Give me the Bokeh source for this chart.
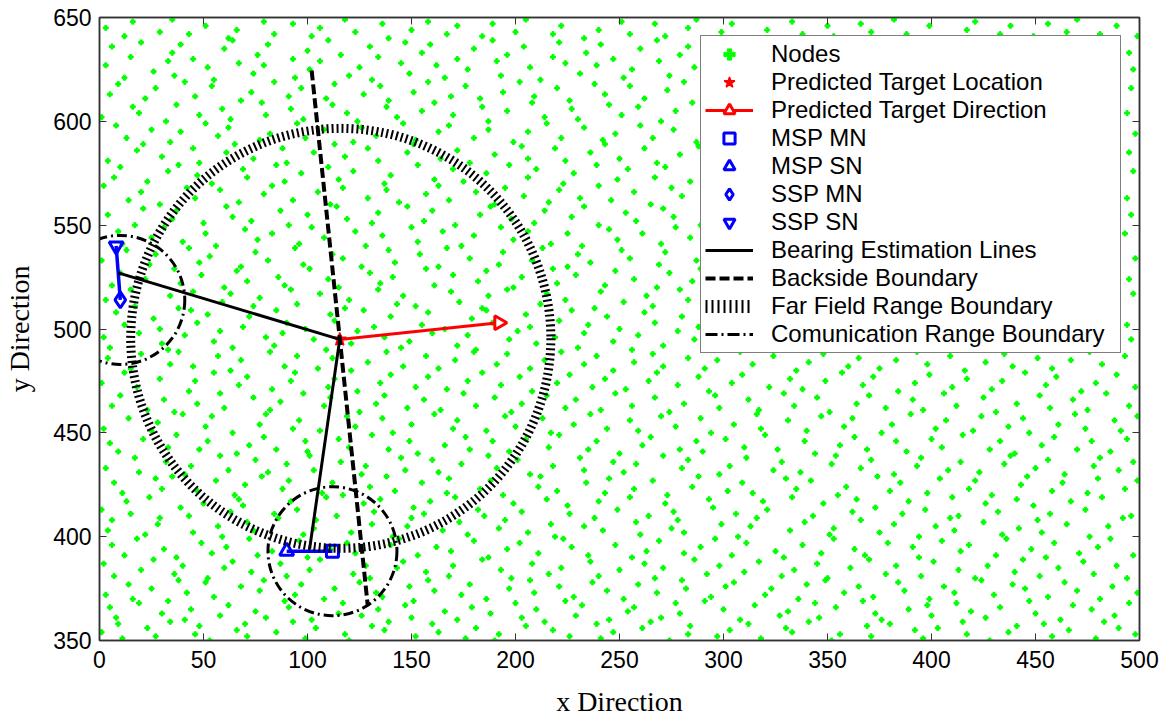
import math
from bokeh.plotting import figure
from bokeh.models import Range1d, LinearAxis, Legend, LegendItem, FixedTicker
from bokeh.embed import file_html
from bokeh.resources import INLINE

# ---------------- data ----------------
x_ticks = [0, 50, 100, 150, 200, 250, 300, 350, 400, 450, 500]
y_ticks = [350, 400, 450, 500, 550, 600, 650]

# sensor nodes (estimated positions, band by band)
nodes = [
(1,354),(9,358),(11,351),(23,356),(27,352),(34,359),(46,353),(48,357),(53,350),(66,355),(70,358),(71,352),(85,354),(93,359),(99,351),(104,356),(118,353),(120,350),(131,357),(137,355),(139,359),(152,352),(160,358),(163,354),(176,351),(181,356),(190,350),(192,353),(205,357),(214,359),(218,355),(226,352),(239,358),(241,351),(247,354),(261,356),(265,359),(274,350),(283,353),(284,357),(297,352),(303,355),(312,358),(318,351),(330,356),(333,354),(341,359),(352,350),(356,353),(369,357),(371,352),(380,358),(392,355),(396,351),(403,356),(415,359),(417,353),(428,350),(437,354),(441,357),(454,358),(458,352),(466,355),(479,351),(483,359),(490,356),(498,353),
(5,366),(8,361),(19,368),(30,363),(33,369),(41,360),(44,365),(58,362),(62,367),(75,364),(80,361),(89,369),(91,366),(102,360),(115,363),(117,368),(126,362),(134,365),(147,367),(150,361),(151,369),(166,364),(172,360),(179,366),(188,363),(200,368),(203,361),(210,365),(224,369),(229,362),(232,367),(245,360),(254,364),(257,366),(270,361),(277,368),(279,363),(291,369),(300,365),(308,360),(315,367),(327,362),(331,364),(344,368),(346,361),(354,366),(367,369),(373,363),(376,360),(389,365),(398,367),(400,362),(412,368),(419,364),(426,361),(433,366),(447,369),(450,363),(462,360),(468,367),(477,365),(488,362),(495,368),
(3,372),(14,377),(16,370),(25,375),(38,379),(42,373),(51,378),(55,371),(68,376),(77,374),(79,379),(94,372),(97,377),(108,370),(113,375),(125,378),(133,373),(136,371),(149,376),(158,379),(161,374),(174,372),(178,377),(186,370),(197,375),(207,379),(209,373),(221,376),(228,371),(237,378),(244,374),(252,370),(259,377),(268,373),(280,379),(282,375),(294,371),(301,376),(305,378),(320,372),(323,375),(336,370),(340,377),(349,379),(358,373),(365,376),(372,371),(384,378),(387,374),(399,370),(406,376),(411,373),(424,379),(430,372),(439,377),(445,375),(456,371),(464,378),(470,374),(481,370),(487,376),(499,373),
(2,387),(7,381),(20,384),(26,389),(36,382),(40,386),(52,380),(60,385),(64,388),(73,383),(87,387),(90,381),(101,384),(106,389),(122,382),(128,386),(130,380),(143,385),(146,388),(157,383),(168,381),(170,386),(184,389),(193,384),(198,380),(208,387),(216,382),(222,385),(236,388),(240,381),(250,384),(262,387),(267,380),(271,385),(286,389),(292,382),(298,386),(310,383),(317,388),(328,381),(334,384),(345,387),(350,380),(361,385),(370,389),(378,382),(383,386),(395,381),(401,388),(413,384),(421,380),(427,386),(440,383),(444,389),(452,381),(461,385),(473,388),(478,382),(489,386),(494,380),
(6,396),(12,391),(18,399),(31,394),(37,390),(49,397),(54,392),(61,395),(72,399),(76,391),(83,393),(96,398),(100,390),(111,394),(119,397),(123,392),(140,396),(144,399),(153,391),(162,395),(169,393),(180,398),(187,390),(196,394),(202,397),(211,392),(223,399),(227,395),(235,391),(248,396),(256,390),(263,393),(269,398),(281,392),(289,395),(296,399),(304,391),(311,397),(325,393),(329,390),(338,396),(347,392),(353,399),(363,394),(368,391),(379,397),(391,395),(394,390),(405,398),(414,393),(418,396),(431,391),(436,399),(448,394),(455,390),(459,397),(471,392),(480,395),(486,399),(497,391),
(4,403),(6,408),(22,401),(28,406),(29,409),(45,402),(57,405),(59,400),(71,407),(74,403),(86,409),(98,401),(103,404),(104,408),(121,402),(131,406),(141,400),(148,405),(150,409),(165,403),(173,407),(177,401),(192,404),(195,408),(206,402),(217,406),(219,400),(233,405),(238,409),(242,403),(258,407),(260,401),(275,404),(278,408),(281,402),(299,406),(307,400),(313,405),(316,409),(332,403),(339,407),(351,401),(353,404),(366,408),(375,402),(382,406),(394,400),(402,405),(409,409),(411,403),(425,407),(434,401),(442,404),(451,408),(453,402),(465,406),(476,400),(485,405),(492,409),
(1,413),(13,417),(15,411),(24,419),(39,414),(43,410),(50,416),(63,412),(67,418),(69,415),(84,411),(92,417),(95,413),(109,419),(114,410),(127,416),(132,412),(135,418),(151,414),(156,411),(159,417),(171,419),(182,413),(185,410),(199,416),(203,412),(215,418),(225,415),(226,411),(240,417),(249,413),(255,419),(264,410),(272,416),(276,412),(293,418),(295,414),(306,411),(319,417),(321,413),(333,419),(343,410),(348,416),(362,412),(364,418),(373,414),(386,411),(389,417),(397,413),(410,419),(413,410),(426,416),(432,412),(441,418),(449,415),(457,411),(467,417),(474,413),(482,419),(496,410),
(7,426),(11,421),(27,428),(30,423),(35,429),(47,422),(56,427),(65,420),(70,425),(78,429),(88,423),(91,427),(107,421),(112,426),(117,420),(130,424),(138,429),(142,422),(155,426),(167,421),(168,428),(183,423),(188,427),(194,420),(211,424),(212,429),(220,422),(234,426),(243,421),(245,428),(257,423),(266,427),(273,420),(285,424),(288,429),(302,422),(309,426),(314,421),(330,428),(335,423),(342,427),(355,420),(359,424),(374,429),(380,422),(385,426),(398,421),(404,428),(418,423),(421,427),(429,420),(443,425),(446,429),(458,422),(463,426),(475,421),(480,428),(493,423),(499,427),
(3,433),(17,438),(19,431),(32,436),(41,430),(44,434),(58,439),(62,432),(75,437),(81,431),(90,435),(101,439),(103,432),(116,436),(126,430),(128,434),(145,438),(147,432),(160,437),(163,431),(174,435),(187,439),(191,433),(201,437),(207,430),(218,434),(231,438),(233,432),(247,436),(252,431),(258,435),(271,439),(280,433),(283,437),(298,430),(303,434),(311,438),(324,432),(328,436),(337,431),(352,435),(354,439),(366,433),(371,437),(382,430),(393,434),(395,438),(408,432),(414,436),(423,431),(435,435),(438,439),(450,433),(456,437),(464,430),(478,434),(481,438),(490,432),(497,436),
(5,445),(9,441),(21,447),(33,443),(37,449),(48,442),(52,446),(66,440),(72,444),(79,448),(85,442),(99,446),(100,441),(115,447),(120,443),(131,449),(139,442),(149,446),(153,440),(166,444),(176,448),(178,442),(189,446),(197,441),(205,447),(216,443),(221,449),(235,442),(239,446),(250,440),(261,444),(265,448),(279,442),(287,446),(290,441),(301,447),(310,443),(320,449),(326,442),(339,446),(344,440),(356,444),(363,448),(369,442),(383,446),(388,441),(400,447),(405,443),(415,449),(428,442),(433,446),(440,440),(453,444),(459,448),(470,442),(477,446),(486,441),(494,447),
(2,452),(14,457),(25,451),(28,455),(40,459),(51,453),(54,458),(64,450),(77,454),(80,459),(93,452),(96,456),(106,451),(119,458),(123,453),(136,457),(141,450),(150,454),(161,459),(170,452),(172,456),(186,451),(195,458),(200,453),(213,457),(217,450),(228,454),(236,459),(244,452),(255,456),(259,451),(270,458),(277,453),(289,457),(294,450),(305,454),(316,459),(318,452),(331,456),(340,451),(347,458),(358,453),(362,457),(376,450),(381,454),(390,459),(402,452),(407,456),(420,451),(424,458),(437,453),(444,457),(447,450),(461,454),(469,459),(474,452),(488,456),(491,451),(499,458),
(6,463),(10,468),(23,461),(31,466),(36,460),(47,464),(58,469),(60,462),(74,467),(82,461),(87,465),(98,469),(108,463),(111,467),(125,460),(133,464),(137,468),(148,462),(156,466),(164,461),(175,469),(181,463),(190,467),(198,460),(203,464),(215,468),(224,462),(229,466),(241,461),(248,469),(256,463),(267,467),(274,460),(281,464),(296,468),(298,462),(312,466),(317,461),(329,469),(334,463),(345,467),(351,460),(364,464),(370,468),(378,462),(391,466),(396,461),(406,469),(412,463),(425,467),(431,460),(441,464),(452,468),(457,462),(468,466),(475,461),(484,469),(495,463),
(1,474),(12,479),(18,472),(29,476),(43,470),(46,475),(55,479),(67,473),(71,477),(83,471),(92,475),(94,479),(110,472),(113,476),(124,470),(135,474),(140,478),(152,472),(158,477),(167,471),(177,475),(184,479),(193,473),(202,477),(208,470),(220,474),(226,478),(237,472),(243,476),(253,471),(264,475),(268,479),(278,473),(288,477),(293,470),(304,474),(309,478),(322,472),(332,476),(338,471),(349,475),(357,479),(367,473),(372,477),(384,470),(392,474),(399,478),(410,472),(417,476),(429,471),(434,475),(445,479),(455,473),(460,477),(472,470),(479,474),(489,478),(498,472),
(4,486),(15,481),(20,488),(34,483),(38,489),(45,482),(57,487),(63,480),(68,485),(82,489),(89,482),(95,487),(105,481),(112,486),(121,480),(129,484),(138,489),(146,482),(157,487),(163,481),(171,485),(180,489),(191,483),(196,488),(207,481),(214,485),(222,489),(233,483),(239,487),(247,480),(257,484),(266,488),(271,482),(283,486),(291,481),(297,485),(308,489),(314,483),(324,487),(335,480),(341,484),(348,488),(360,482),(365,486),(375,481),(383,485),(393,489),(398,483),(409,487),(416,480),(426,484),(435,488),(439,482),(451,486),(458,481),(467,485),(476,489),(482,483),(493,487),
(2,496),(5,491),(19,498),(30,493),(33,490),(41,497),(55,494),(58,499),(64,491),(80,496),(84,492),(88,498),(103,495),(109,490),(121,493),(124,499),(137,496),(145,491),(149,494),(160,498),(172,492),(177,497),(181,490),(197,495),(201,499),(210,493),(219,496),(230,491),(233,498),(247,494),(256,490),(259,497),(271,492),(278,499),(286,495),(496,495),
(8,508),(12,502),(26,505),(29,500),(44,509),(47,503),(52,507),(69,501),(72,506),(85,509),(90,503),(99,500),(111,507),(113,504),(127,509),(132,501),(140,506),(155,502),(158,508),(166,500),(179,505),(186,509),(189,503),(205,507),(207,501),(221,504),(227,509),(235,502),(244,506),(250,500),(262,508),(267,503),(280,506),(288,501),(494,502),
(3,514),(15,519),(17,511),(34,516),(38,510),(45,518),(59,513),(63,517),(74,511),(77,515),(92,519),(95,512),(106,517),(118,510),(120,514),(134,519),(143,512),(146,516),(152,511),(169,518),(173,513),(184,510),(187,516),(196,519),(212,512),(215,517),(224,514),(238,510),(241,518),(252,513),(263,516),(266,511),(279,519),(283,514),(497,517),
(6,521),(10,527),(22,524),(36,529),(39,522),(49,526),(60,520),(66,528),(71,523),(86,525),(89,521),(101,529),(110,524),(115,520),(130,527),(135,522),(141,525),(157,529),(161,521),(170,526),(182,523),(186,528),(199,520),(203,525),(218,529),(220,522),(229,526),(243,521),(248,528),(257,524),(268,520),(274,527),(285,523),(289,529),(495,524),
(1,533),(13,538),(24,531),(27,536),(43,539),(48,532),(53,535),(68,530),(75,537),(81,533),(94,539),(98,531),(112,536),(117,534),(126,530),(139,538),(142,532),(154,536),(163,530),(167,539),(178,534),(192,531),(194,537),(208,533),(213,539),(225,530),(230,536),(236,532),(251,538),(255,534),(269,531),(272,537),(287,533),(498,534),
(9,547),(11,541),(25,544),(31,549),(40,542),(51,546),(56,540),(70,548),(76,543),(83,546),(96,541),(102,549),(108,544),(123,547),(128,540),(136,545),(150,549),(153,542),(165,547),(174,540),(180,545),(193,549),(199,543),(206,547),(217,541),(225,546),(232,540),(245,548),(249,543),(261,546),(270,541),(277,549),(284,544),(493,546),
(4,555),(17,550),(21,558),(35,553),(37,557),(50,551),(61,559),(64,554),(73,552),(87,557),(91,550),(100,555),(114,559),(119,553),(131,551),(134,556),(148,559),(156,552),(160,557),(171,550),(183,555),(188,559),(198,553),(209,551),(214,557),(227,554),(233,559),(240,550),(253,556),(258,552),(271,558),(276,554),(289,550),(496,555),
(2,569),(14,562),(20,566),(29,560),(42,568),(46,563),(58,567),(67,561),(79,565),(83,569),(93,562),(105,566),(111,560),(117,568),(129,563),(138,567),(144,561),(157,565),(163,569),(168,562),(181,566),(190,560),(195,568),(204,564),(216,561),(221,567),(231,563),(240,569),(246,562),(257,566),(265,560),(275,568),(280,564),(494,563),
(7,573),(10,578),(23,571),(33,576),(38,579),(47,574),(54,570),(69,577),(71,573),(85,579),(89,571),(97,575),(110,578),(115,572),(122,576),(137,570),(140,574),(153,579),(161,572),(170,577),(175,571),(186,575),(197,579),(206,573),(210,577),(223,570),(228,575),(239,579),(249,572),(254,577),(267,573),(272,578),(284,571),(497,576),
(4,581),(18,586),(21,589),(30,583),(45,587),(48,580),(61,585),(65,589),(74,582),(88,587),(90,580),(103,585),(113,589),(118,583),(129,587),(134,581),(148,585),(151,589),(164,582),(172,586),(178,580),(190,584),(203,588),(206,582),(219,587),(224,581),(236,585),(243,589),(250,582),(262,587),(268,580),(279,584),(288,588),(495,585),
(8,598),(13,592),(25,596),(34,590),(39,595),(51,599),(57,593),(62,597),(77,591),(82,594),(95,599),(99,592),(108,596),(122,590),(126,597),(133,593),(146,599),(152,591),(163,595),(168,598),(180,592),(187,596),(199,590),(206,595),(215,599),(222,592),(233,597),(242,591),(248,594),(260,598),(266,592),(276,596),(287,590),(498,594),
(1,602),(16,607),(19,604),(32,600),(37,608),(48,603),(59,606),(63,601),(78,609),(80,603),(92,606),(98,601),(112,608),(119,604),(124,600),(138,607),(143,602),(155,605),(161,609),(170,603),(184,607),(187,600),(196,605),(208,609),(214,602),(227,606),(230,601),(245,608),(251,603),(259,607),(270,600),(277,605),(285,609),(494,604),
(5,613),(9,618),(22,611),(27,616),(41,619),(46,612),(54,617),(68,610),(73,614),(84,619),(91,612),(97,616),(109,611),(113,618),(127,613),(135,617),(139,610),(151,614),(158,619),(169,612),(176,617),(183,611),(194,614),(202,619),(209,612),(220,616),(226,610),(238,618),(243,613),(255,617),(262,611),(273,615),(281,619),(496,616),
(3,627),(12,621),(26,624),(33,629),(36,622),(52,626),(55,620),(67,628),(74,623),(79,627),(94,621),(101,625),(106,629),(120,622),(125,626),(131,620),(145,628),(149,623),(162,627),(166,621),(177,625),(191,629),(193,622),(207,626),(212,620),(224,628),(231,623),(239,627),(252,621),(256,625),(269,629),(274,622),(286,626),(497,625),
(6,636),(15,631),(20,638),(35,633),(39,637),(45,630),(60,635),(64,639),(76,632),(81,637),(93,630),(100,634),(110,639),(116,632),(130,636),(134,631),(147,638),(155,633),(159,637),(172,630),(180,635),(189,639),(196,632),(204,636),(218,631),(221,638),(234,633),(241,637),(247,630),(260,635),(268,639),(279,632),(283,636),(495,633),
(3,645),(12,641),(16,648),(29,643),(35,649),(43,642),(51,646),(62,640),(66,644),(79,648),(84,642),(93,647),(102,641),(106,645),(118,649),(123,643),(136,647),(139,640),(150,644),(158,648),(167,642),(172,646),(184,641),(189,647),(200,643),(205,649),(218,642),(222,646),(233,640),(240,644),(251,648),(255,642),(267,647),(272,641),(283,645),(287,649),(299,643),(304,647),(316,640),(321,644),(333,648),(338,642),(350,646),(353,641),(366,647),(371,643),(382,649),(388,642),(399,646),(406,640),(417,644),(421,648),(433,642),(438,646),(449,641),(456,647),(465,643),(470,649),(481,642),(489,646),(499,641),
]
node_x = [p_[0] for p_ in nodes]
node_y = [p_[1] for p_ in nodes]

target_x = [115.5]
target_y = [495.0]
dir_end_x = [192.0]
dir_end_y = [503.0]

msp_mn_x = [112.0]
msp_mn_y = [393.0]
msp_sn_x = [90.0]
msp_sn_y = [393.0]
ssp_mn_x = [10.0]
ssp_mn_y = [514.0]
ssp_sn_x = [8.0]
ssp_sn_y = [540.0]

bearing_x0 = [9.0, 101.0]
bearing_y0 = [527.0, 394.0]

backside_x = [102.0, 129.0]
backside_y = [624.5, 366.5]

far_field_x = [116.0]
far_field_y = [495.5]
far_field_r = 101.0

comm_x = [10.0, 112.0]
comm_y = [514.0, 393.0]
comm_r = 31.0

# off-range samples used only to draw the legend swatches of the circles
legend_swatch_x = [-100.0, -90.0]
legend_swatch_y = [300.0, 300.0]

# ---------------- figure ----------------
p = figure(width=1171, height=719,
           x_range=Range1d(0, 500), y_range=Range1d(350, 650),
           output_backend="svg", toolbar_location=None,
           min_border_left=99, min_border_right=32,
           min_border_top=17, min_border_bottom=78,
           background_fill_color="white", border_fill_color="white")
p.xgrid.visible = False
p.ygrid.visible = False
p.outline_line_color = "#333333"
p.outline_line_width = 1.5

bottom_axis = p.below[0]
left_axis = p.left[0]
top_axis = LinearAxis()
right_axis = LinearAxis()
p.add_layout(top_axis, "above")
p.add_layout(right_axis, "right")

for ax, ticks in ((bottom_axis, x_ticks), (top_axis, x_ticks),
                  (left_axis, y_ticks), (right_axis, y_ticks)):
    ax.ticker = FixedTicker(ticks=ticks)
    ax.axis_line_color = "#333333"
    ax.axis_line_width = 1.5
    ax.major_tick_line_color = "#333333"
    ax.major_tick_in = 7
    ax.major_tick_out = 0
    ax.minor_tick_line_color = None
    ax.major_label_text_font = "Liberation Sans"
    ax.major_label_text_font_size = "23px"
    ax.major_label_text_color = "black"

for ax, ticks in ((top_axis, x_ticks), (right_axis, y_ticks)):
    ax.major_label_overrides = {t: "" for t in ticks}

bottom_axis.major_label_standoff = 10
left_axis.major_label_standoff = 8

for ax, txt, so in ((bottom_axis, "x Direction", 15), (left_axis, "y Direction", 15)):
    ax.axis_label = txt
    ax.axis_label_text_font = "Liberation Serif"
    ax.axis_label_text_font_size = "28px"
    ax.axis_label_text_font_style = "normal"
    ax.axis_label_text_color = "black"
    ax.axis_label_standoff = so

# ---------------- glyphs ----------------
r_nodes = p.scatter(node_x, node_y, marker="plus", size=5,
                    fill_color="#00ff00", line_color="#00ff00")
r_star = p.scatter(target_x, target_y, marker="star", size=14,
                   fill_color="red", line_color="red", line_width=1.5)
r_dir_line = p.segment(x0=target_x, y0=target_y, x1=dir_end_x, y1=dir_end_y,
                       line_color="red", line_width=3)
r_dir_mark = p.scatter(dir_end_x, dir_end_y, marker="triangle", angle=-math.pi / 2,
                       size=14, fill_color="white", line_color="red", line_width=3)

p.segment(x0=msp_mn_x + ssp_mn_x, y0=msp_mn_y + ssp_mn_y,
          x1=msp_sn_x + ssp_sn_x, y1=msp_sn_y + ssp_sn_y,
          line_color="blue", line_width=3.5)
r_msp_mn = p.scatter(msp_mn_x, msp_mn_y, marker="square", size=12,
                     fill_color=None, line_color="blue", line_width=3)
r_msp_sn = p.scatter(msp_sn_x, msp_sn_y, marker="triangle", size=14,
                     fill_color=None, line_color="blue", line_width=3)
r_ssp_mn = p.scatter(ssp_mn_x, ssp_mn_y, marker="diamond", size=16,
                     fill_color=None, line_color="blue", line_width=3)
r_ssp_sn = p.scatter(ssp_sn_x, ssp_sn_y, marker="inverted_triangle", size=14,
                     fill_color=None, line_color="blue", line_width=3)

r_bearing = p.segment(x0=bearing_x0, y0=bearing_y0,
                      x1=target_x * len(bearing_x0), y1=target_y * len(bearing_y0),
                      line_color="black", line_width=3)
r_back = p.line(backside_x, backside_y, line_color="black", line_width=4,
                line_dash="10 4")
p.circle(x=far_field_x, y=far_field_y, radius=far_field_r,
         fill_color=None, line_color="black", line_width=9, line_dash="2 3")
p.circle(x=comm_x, y=comm_y, radius=comm_r,
         fill_color=None, line_color="black", line_width=3, line_dash="10 4 2 4")

r_far_leg = p.line(legend_swatch_x, legend_swatch_y, line_color="black",
                   line_width=13, line_dash="2 4")
r_comm_leg = p.line(legend_swatch_x, legend_swatch_y, line_color="black",
                    line_width=3, line_dash="12 4 2 4")

legend = Legend(items=[
    LegendItem(label="Nodes", renderers=[r_nodes]),
    LegendItem(label="Predicted Target Location", renderers=[r_star]),
    LegendItem(label="Predicted Target Direction", renderers=[r_dir_line, r_dir_mark]),
    LegendItem(label="MSP MN", renderers=[r_msp_mn]),
    LegendItem(label="MSP SN", renderers=[r_msp_sn]),
    LegendItem(label="SSP MN", renderers=[r_ssp_mn]),
    LegendItem(label="SSP SN", renderers=[r_ssp_sn]),
    LegendItem(label="Bearing Estimation Lines", renderers=[r_bearing]),
    LegendItem(label="Backside Boundary", renderers=[r_back]),
    LegendItem(label="Far Field Range Boundary", renderers=[r_far_leg]),
    LegendItem(label="Comunication Range Boundary", renderers=[r_comm_leg]),
], location="top_right")
legend.margin = 18
legend.padding = 4
legend.spacing = 0
legend.glyph_width = 48
legend.glyph_height = 28
legend.label_height = 28
legend.label_width = 345
legend.label_standoff = 18
legend.label_text_font = "Liberation Sans"
legend.label_text_font_size = "24px"
legend.label_text_color = "black"
legend.border_line_color = "black"
legend.border_line_width = 1
legend.background_fill_color = "white"
legend.background_fill_alpha = 1.0
p.add_layout(legend)

open("out.html", "w").write(file_html(p, INLINE))
